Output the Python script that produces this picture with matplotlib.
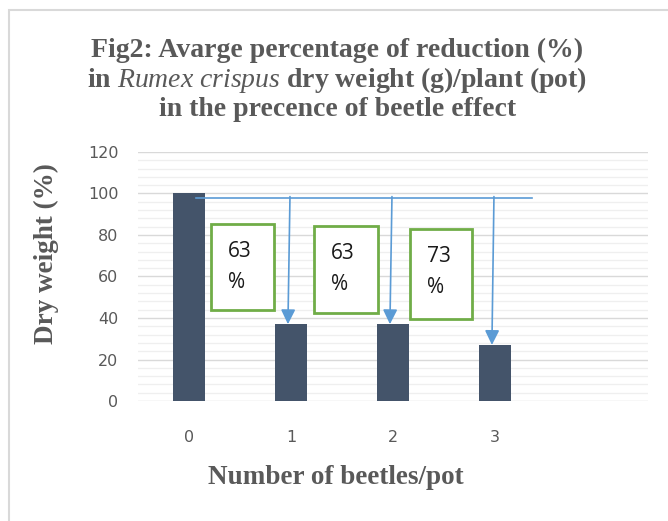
import matplotlib.pyplot as plt
from matplotlib.patches import Rectangle
import numpy as np

plt.rcParams["mathtext.fontset"] = "custom"
plt.rcParams["mathtext.it"] = "Liberation Serif:italic"
plt.rcParams["mathtext.rm"] = "Liberation Serif:bold"

# data
beetles = ["0", "1", "2", "3"]
dry_weight = [100, 37, 37, 27]
reduction = [("63", "%"), ("63", "%"), ("73", "%")]
ref_level = 98

bar_color = "#44546A"
arrow_color = "#5B9BD5"
box_color = "#70AD47"
tick_color = "#595959"
serif = "Liberation Serif"

fig = plt.figure(figsize=(6.68, 5.21), dpi=100)
ax = fig.add_axes([0.2066, 0.2303, 0.7634, 0.478])

x = np.arange(len(beetles))
ax.bar(x, dry_weight, width=0.31, color=bar_color, zorder=3)

ax.set_xlim(-0.5, 4.5)
ax.set_ylim(0, 120)
ax.set_xticks(x)
ax.set_xticklabels(beetles)
ax.set_yticks(np.arange(0, 121, 20))
ax.set_yticks(np.arange(0, 121, 4), minor=True)
ax.grid(which="major", axis="y", color="#D9D9D9", lw=1.0, zorder=0)
ax.grid(which="minor", axis="y", color="#EFEFEF", lw=0.9, zorder=0)
for s in ax.spines.values():
    s.set_visible(False)
ax.tick_params(axis="both", which="both", length=0, colors=tick_color)
ax.tick_params(axis="x", pad=21)
ax.tick_params(axis="y", pad=14)
for lbl in ax.get_xticklabels() + ax.get_yticklabels():
    lbl.set_family("DejaVu Sans")
    lbl.set_fontsize(11.5)

# reference line and arrows
ax.plot([0.07, 3.36], [ref_level, ref_level], color=arrow_color, lw=1.2, zorder=4)
for i in range(1, len(beetles)):
    ax.annotate("", xy=(x[i] - 0.03, dry_weight[i]), xytext=(x[i] - 0.01, ref_level + 0.5),
                arrowprops=dict(arrowstyle="-|>,head_length=0.55,head_width=0.27",
                                color=arrow_color, lw=1.2,
                                mutation_scale=16, shrinkA=0, shrinkB=0),
                zorder=5)

# reduction boxes
box_x = [0.213, 1.225, 2.167]
box_w = [0.62, 0.628, 0.608]
box_y = [43.9, 42.4, 39.5]
box_h = [41.4, 41.9, 43.4]
for bx, bw, by, bh, (num, pct) in zip(box_x, box_w, box_y, box_h, reduction):
    ax.add_patch(Rectangle((bx, by), bw, bh, facecolor="white", edgecolor=box_color,
                           lw=2, zorder=6))
    top = by + bh
    ax.text(bx + 0.165, top - 13.3, num, ha="left", va="center", fontsize=15,
            family="Open Sans", color="#1a1a1a", zorder=7)
    ax.text(bx + 0.165, top - 28, pct, ha="left", va="center", fontsize=15,
            family="Open Sans", color="#1a1a1a", zorder=7)

# titles
fig.text(0.505, 0.846, "Fig2: Avarge percentage of reduction (%)\n"
         r"in $\it{Rumex\ crispus}$ dry weight (g)/plant (pot)" "\n"
         "in the precence of beetle effect",
         ha="center", va="center", fontsize=20, fontweight="bold",
         family=serif, color="#595959", linespacing=1.1)
fig.text(0.069, 0.514, "Dry weight (%)", rotation=90, ha="center", va="center",
         fontsize=19.5, fontweight="bold", family=serif, color="#595959")
fig.text(0.503, 0.084, "Number of beetles/pot", ha="center", va="center",
         fontsize=19.5, fontweight="bold", family=serif, color="#595959")

# outer frame
fig.patches.append(Rectangle((9 / 668, -0.1), 1.2, 1.1 - 10 / 521,
                             transform=fig.transFigure, fill=False,
                             edgecolor="#D9D9D9", lw=1.5))

fig.savefig("out.png", dpi=100)
